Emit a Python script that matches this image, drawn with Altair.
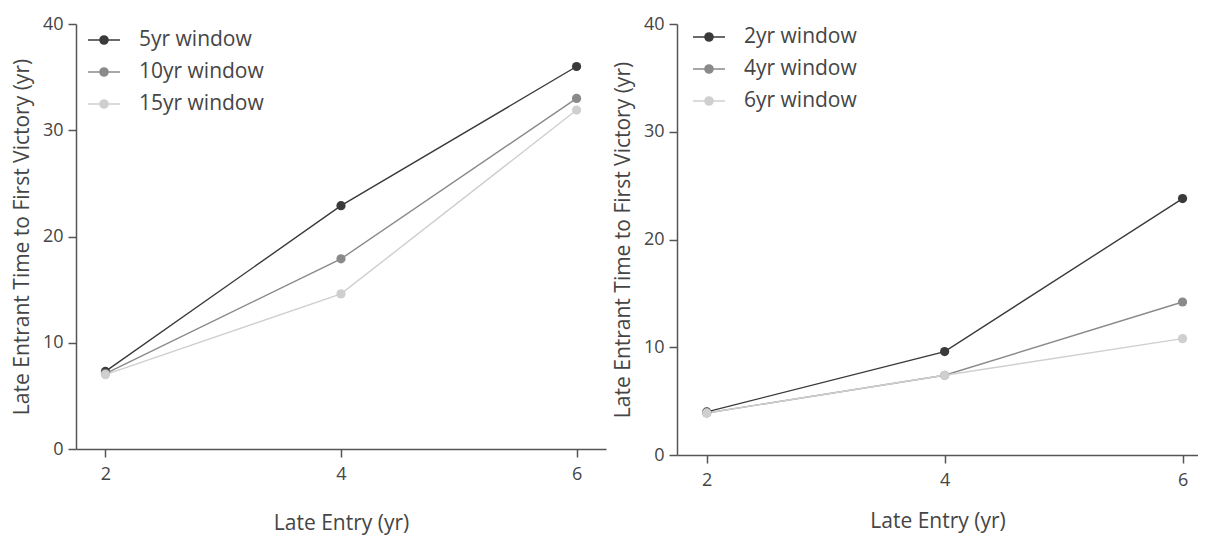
import altair as alt
import pandas as pd

# ---------------- data ----------------
entry = [2, 4, 6]

left_series = ["5yr window", "10yr window", "15yr window"]
left_5yr = [7.3, 22.9, 36.0]
left_10yr = [7.1, 17.9, 33.0]
left_15yr = [7.0, 14.6, 31.9]

right_series = ["2yr window", "4yr window", "6yr window"]
right_2yr = [4.0, 9.6, 23.8]
right_4yr = [3.9, 7.4, 14.2]
right_6yr = [3.9, 7.4, 10.8]

y_ticks = [0, 10, 20, 30, 40]
x_title = "Late Entry (yr)"
y_title = "Late Entrant Time to First Victory (yr)"

greys = ["#3a3a3a", "#8a8a8a", "#cfcfcf"]


def to_frame(names, arrays):
    rows = []
    for name, vals in zip(names, arrays):
        for x, v in zip(entry, vals):
            rows.append({"entry": x, "value": v, "series": name})
    return pd.DataFrame(rows)


left_df = to_frame(left_series, [left_5yr, left_10yr, left_15yr])
right_df = to_frame(right_series, [right_2yr, right_4yr, right_6yr])

FONT = "Open Sans"
TXT = "#454545"
# line with a filled dot, drawn as concentric rings so it reads as a dot
LEG_SYMBOL = ("M-1,0L1,0 "
              "M-0.25,0A0.25,0.25 0 1,1 0.25,0A0.25,0.25 0 1,1 -0.25,0 "
              "M-0.17,0A0.17,0.17 0 1,1 0.17,0A0.17,0.17 0 1,1 -0.17,0 "
              "M-0.09,0A0.09,0.09 0 1,1 0.09,0A0.09,0.09 0 1,1 -0.09,0 "
              "M-0.03,0A0.03,0.03 0 1,1 0.03,0A0.03,0.03 0 1,1 -0.03,0")


def panel(df, order, width, height, xmax, legend_x, legend_y, tpad):
    return (
        alt.Chart(df)
        .mark_line(strokeWidth=1.4,
                   point=alt.OverlayMarkDef(filled=True, size=85, opacity=1))
        .encode(
            x=alt.X("entry:Q",
                    scale=alt.Scale(domain=[1.75, xmax], nice=False, zero=False),
                    axis=alt.Axis(values=entry, title=x_title, format="d",
                                  tickSize=8, titlePadding=tpad, labelPadding=8)),
            y=alt.Y("value:Q",
                    scale=alt.Scale(domain=[0, 40], nice=False),
                    axis=alt.Axis(values=y_ticks, title=y_title, tickSize=8,
                                  labelPadding=5, titlePadding=10)),
            color=alt.Color("series:N",
                            scale=alt.Scale(domain=order, range=greys),
                            sort=order,
                            legend=alt.Legend(title=None, orient="none",
                                              legendX=legend_x, legendY=legend_y,
                                              symbolType=LEG_SYMBOL,
                                              symbolSize=1024,
                                              symbolStrokeWidth=1.6,
                                              labelFontSize=21,
                                              labelFont=FONT,
                                              labelColor=TXT,
                                              labelOffset=18,
                                              rowPadding=5)),
            order=alt.Order("entry:Q"),
        )
        .properties(width=width, height=height)
    )


left = panel(left_df, left_series, 530, 425, 6.25, 11, -1, 29)
right = panel(right_df, right_series, 521, 431, 6.13, 15, -4, 21)

chart = (
    alt.hconcat(left, right, spacing=6)
    .resolve_scale(color="independent")
    .resolve_legend(color="independent")
    .properties(padding={"left": 3, "top": 7, "right": 0, "bottom": 6})
    .configure_view(strokeWidth=0)
    .configure_axis(grid=False, domainColor="#555555", domainWidth=1.5,
                    tickColor="#555555", tickWidth=1.5,
                    labelFont=FONT, labelFontSize=18, labelColor=TXT,
                    titleFont=FONT, titleFontSize=21, titleColor=TXT,
                    titleFontWeight="normal")
)

chart.save("out.html", embed_options={"renderer": "svg", "actions": False})
